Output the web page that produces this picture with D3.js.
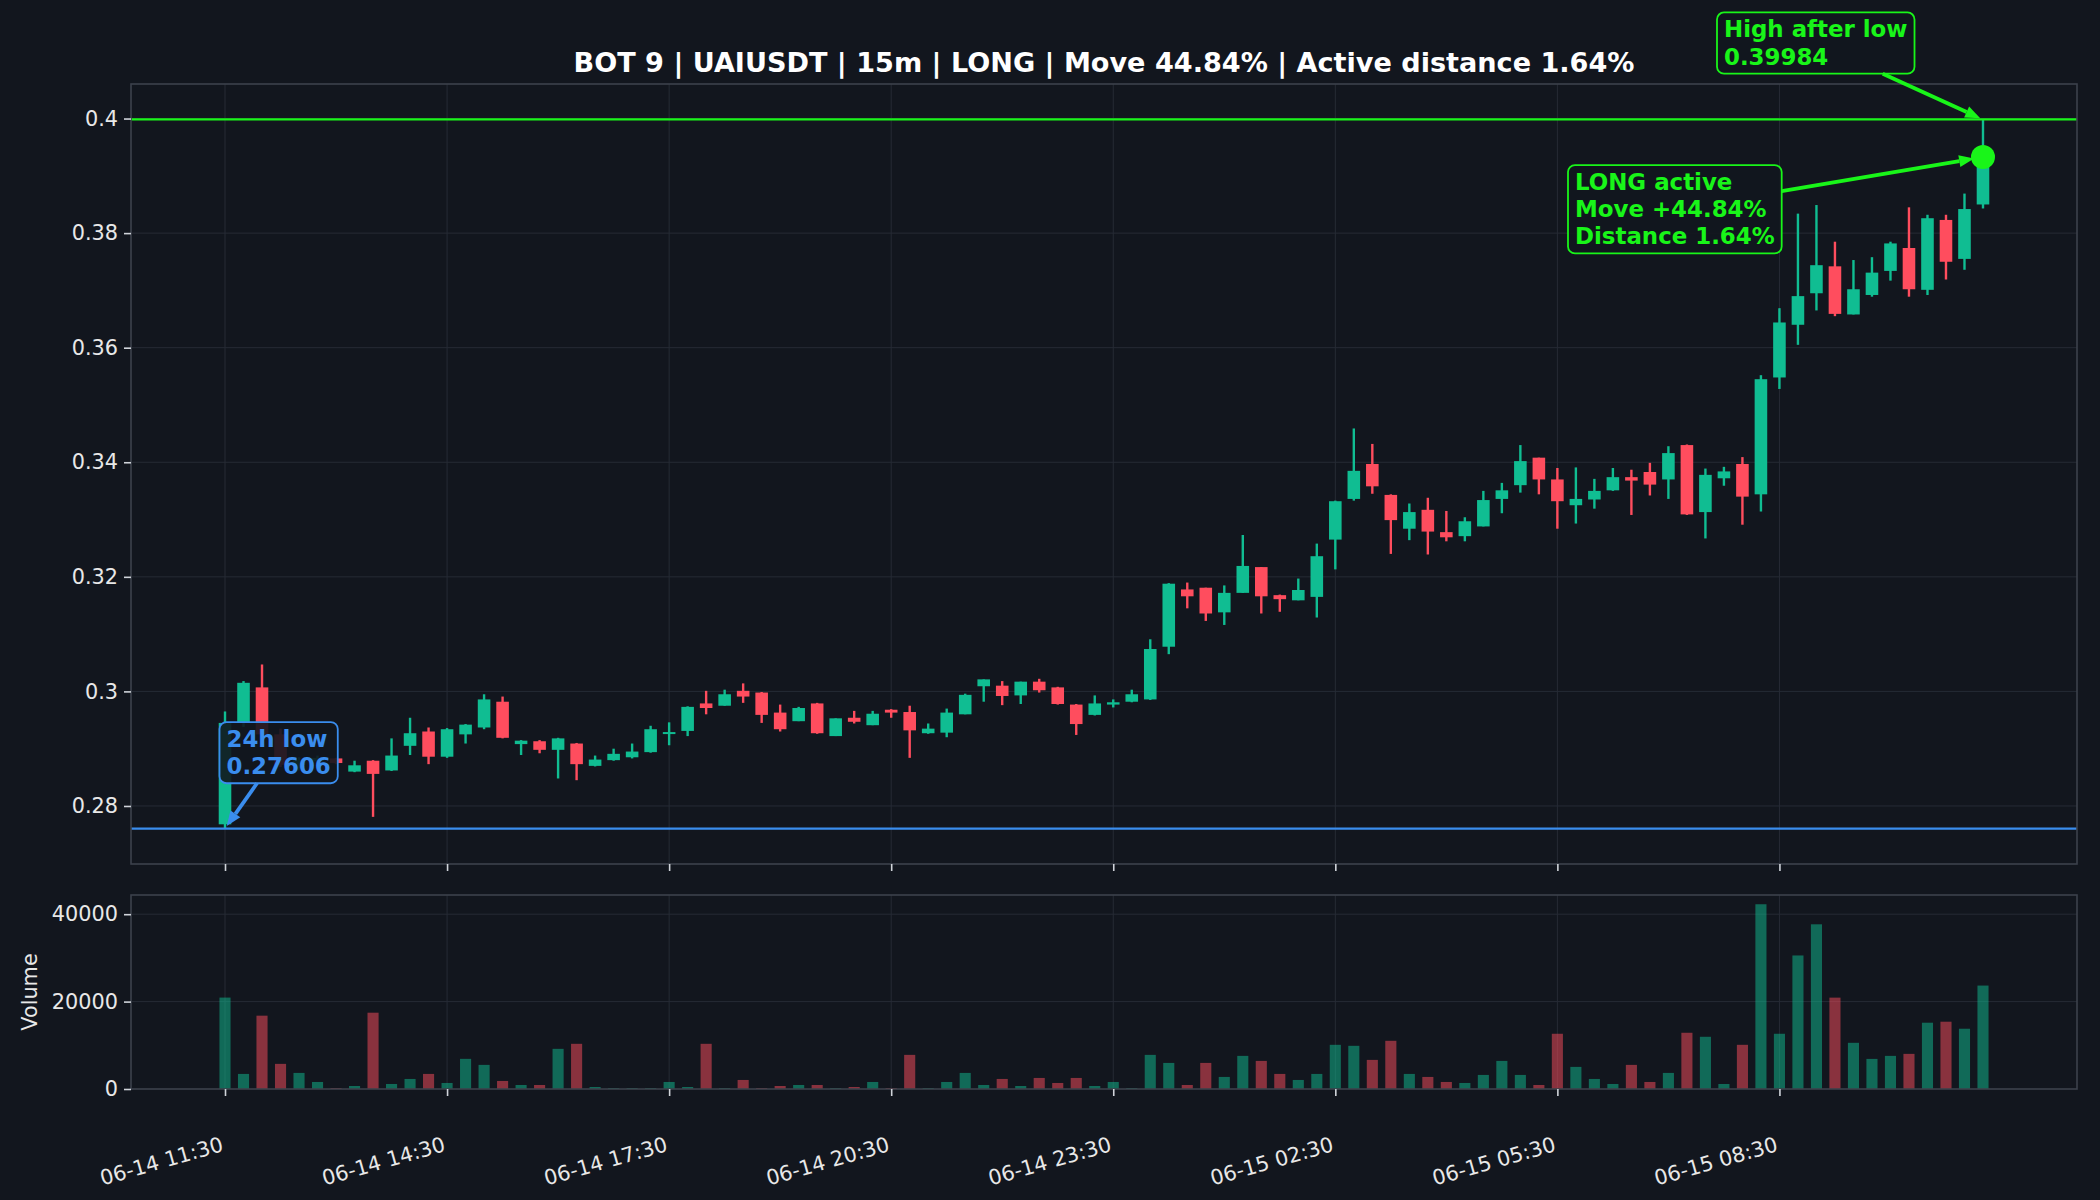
<!DOCTYPE html>
<html>
<head>
<meta charset="utf-8">
<script src="https://cdn.jsdelivr.net/npm/d3@7"></script>
<style>
  body { margin: 0; background: #12161e; }
  text { font-family: "DejaVu Sans", sans-serif; }
</style>
</head>
<body>
<svg id="chart"></svg>
<script>
// 15m candles, 06-14 11:30 -> 06-15 11:15
const opens = [
  0.2768, 0.2945, 0.3007, 0.2925, 0.2872, 0.2878, 0.2883, 0.2860, 0.2879, 0.2862, 0.2905, 0.2930,
  0.2886, 0.2925, 0.2937, 0.2982, 0.2908, 0.2913, 0.2898, 0.2909, 0.2870, 0.2880, 0.2885, 0.2894,
  0.2927, 0.2931, 0.2979, 0.2975, 0.3001, 0.2998, 0.2963, 0.2948, 0.2979, 0.2922, 0.2954, 0.2941,
  0.2968, 0.2964, 0.2927, 0.2928, 0.2960, 0.3009, 0.3010, 0.2993, 0.3017, 0.3007, 0.2977, 0.2959,
  0.2977, 0.2982, 0.2986, 0.3078, 0.3178, 0.3181, 0.3138, 0.3172, 0.3217, 0.3168, 0.3159, 0.3165,
  0.3265, 0.3336, 0.3397, 0.3343, 0.3284, 0.3317, 0.3278, 0.3271, 0.3288, 0.3336, 0.3360, 0.3408,
  0.3370, 0.3325, 0.3335, 0.3351, 0.3374, 0.3383, 0.3370, 0.3430, 0.3313, 0.3372, 0.3397, 0.3344,
  0.3548, 0.3640, 0.3695, 0.3742, 0.3658, 0.3692, 0.3734, 0.3774, 0.3701, 0.3823, 0.3755, 0.3850
];
const highs = [
  0.2965, 0.3018, 0.3047, 0.2935, 0.2885, 0.2888, 0.2884, 0.2879, 0.2880, 0.2918, 0.2954, 0.2937,
  0.2936, 0.2943, 0.2995, 0.2991, 0.2915, 0.2915, 0.2919, 0.2910, 0.2888, 0.2900, 0.2909, 0.2940,
  0.2946, 0.2974, 0.3001, 0.3003, 0.3014, 0.2999, 0.2977, 0.2973, 0.2980, 0.2953, 0.2966, 0.2966,
  0.2969, 0.2975, 0.2944, 0.2970, 0.2996, 0.3021, 0.3018, 0.3017, 0.3022, 0.3008, 0.2978, 0.2993,
  0.2986, 0.3003, 0.3091, 0.3189, 0.3190, 0.3181, 0.3185, 0.3273, 0.3217, 0.3169, 0.3197, 0.3258,
  0.3333, 0.3459, 0.3432, 0.3344, 0.3328, 0.3338, 0.3315, 0.3304, 0.3350, 0.3364, 0.3430, 0.3408,
  0.3390, 0.3391, 0.3371, 0.3390, 0.3387, 0.3399, 0.3428, 0.3431, 0.3389, 0.3392, 0.3409, 0.3552,
  0.3669, 0.3834, 0.3849, 0.3785, 0.3753, 0.3758, 0.3785, 0.3845, 0.3832, 0.3832, 0.3869, 0.39984
];
const lows = [
  0.27606, 0.2938, 0.2918, 0.2868, 0.2862, 0.2874, 0.2873, 0.2859, 0.2781, 0.2861, 0.2889, 0.2873,
  0.2884, 0.2909, 0.2934, 0.2918, 0.2889, 0.2892, 0.2848, 0.2845, 0.2869, 0.2879, 0.2883, 0.2893,
  0.2906, 0.2922, 0.2960, 0.2975, 0.2980, 0.2945, 0.2930, 0.2948, 0.2926, 0.2922, 0.2944, 0.2941,
  0.2954, 0.2884, 0.2926, 0.2920, 0.2960, 0.2982, 0.2976, 0.2978, 0.2998, 0.2977, 0.2924, 0.2958,
  0.2972, 0.2981, 0.2985, 0.3065, 0.3145, 0.3123, 0.3116, 0.3172, 0.3136, 0.3139, 0.3159, 0.3129,
  0.3213, 0.3333, 0.3345, 0.3240, 0.3264, 0.3239, 0.3262, 0.3262, 0.3288, 0.3311, 0.3347, 0.3344,
  0.3284, 0.3293, 0.3319, 0.3350, 0.3308, 0.3342, 0.3336, 0.3308, 0.3267, 0.3359, 0.3291, 0.3314,
  0.3528, 0.3605, 0.3665, 0.3655, 0.3658, 0.3689, 0.3717, 0.3689, 0.3692, 0.3719, 0.3736, 0.3843
];
const closes = [
  0.2945, 0.3015, 0.2925, 0.2872, 0.2880, 0.2884, 0.2875, 0.2871, 0.2856, 0.2888, 0.2927, 0.2886,
  0.2934, 0.2942, 0.2986, 0.2919, 0.2914, 0.2898, 0.2918, 0.2873, 0.2881, 0.2891, 0.2895, 0.2934,
  0.2929, 0.2973, 0.2971, 0.2995, 0.2991, 0.2959, 0.2934, 0.2971, 0.2927, 0.2953, 0.2947, 0.2961,
  0.2963, 0.2932, 0.2935, 0.2963, 0.2994, 0.3021, 0.2992, 0.3017, 0.3002, 0.2978, 0.2943, 0.2979,
  0.2981, 0.2995, 0.3074, 0.3188, 0.3166, 0.3136, 0.3172, 0.3219, 0.3166, 0.3161, 0.3177, 0.3236,
  0.3332, 0.3385, 0.3358, 0.3299, 0.3313, 0.3279, 0.3269, 0.3297, 0.3334, 0.3351, 0.3402, 0.3370,
  0.3332, 0.3336, 0.3350, 0.3374, 0.3368, 0.3361, 0.3416, 0.3309, 0.3378, 0.3384, 0.3340, 0.3545,
  0.3644, 0.3690, 0.3744, 0.3659, 0.3702, 0.3731, 0.3782, 0.3702, 0.3826, 0.3750, 0.3842, 0.39328
];
const volumes = [
  20920, 3450, 16780, 5750, 3680, 1610, 230, 690, 17460, 1150, 2300, 3450,
  1380, 6900, 5520, 1840, 920, 920, 9190, 10340, 460, 230, 230, 230,
  1610, 460, 10340, 230, 2070, 230, 690, 920, 920, 230, 460, 1610,
  230, 7810, 230, 1610, 3680, 920, 2300, 690, 2530, 1380, 2530, 690,
  1610, 230, 7810, 5970, 920, 5970, 2760, 7580, 6430, 3450, 2070, 3450,
  10110, 9880, 6660, 11030, 3450, 2760, 1610, 1380, 3220, 6430, 3220, 920,
  12640, 5060, 2300, 1150, 5520, 1610, 3680, 12870, 11950, 1150, 10110, 42280,
  12640, 30560, 37690, 20910, 10570, 6890, 7580, 8040, 15170, 15400, 13790, 23670
];
const xTickLabels = ["06-14 11:30", "06-14 14:30", "06-14 17:30", "06-14 20:30",
                     "06-14 23:30", "06-15 02:30", "06-15 05:30", "06-15 08:30"];
const priceTicks = [0.28, 0.30, 0.32, 0.34, 0.36, 0.38, 0.40];
const volumeTicks = [0, 20000, 40000];
const lowValue = 0.27606, highValue = 0.39984;
const titleText = "BOT 9 | UAIUSDT | 15m | LONG | Move 44.84% | Active distance 1.64%";

const W = 2100, H = 1200;
const left = 131, right = 2077;
const pTop = 84, pBottom = 864, vTop = 895, vBottom = 1089;
const bg = "#12161e", upColor = "#10bd92", downColor = "#ff4d5e";
const lime = "#19f519", blue = "#3a8dee", gridColor = "#262b35", spineColor = "#3c414c";

const parseT = d3.timeParse("%m-%d %H:%M");
const t0 = parseT(xTickLabels[0]);
const times = d3.timeMinute.every(15).range(t0, d3.timeMinute.offset(t0, 15 * opens.length));
const tickTimes = xTickLabels.map(parseT);
const step = 15 * 60000;

const x = d3.scaleTime()
  .domain([+times[0] - 5.08 * step, +times[times.length - 1] + 5.08 * step])
  .range([left, right]);
const pxStep = x(times[1]) - x(times[0]);
const lo = d3.min(lows), hi = d3.max(highs), pad = (hi - lo) * 0.05;
const y = d3.scaleLinear().domain([lo - pad, hi + pad]).range([pBottom, pTop]);
const yv = d3.scaleLinear().domain([0, d3.max(volumes) * 1.05]).range([vBottom, vTop]);

const svg = d3.select("#chart").attr("width", W).attr("height", H);
svg.append("rect").attr("width", W).attr("height", H).attr("fill", bg);

const candles = times.map((t, i) => ({
  t, o: opens[i], h: highs[i], l: lows[i], c: closes[i], v: volumes[i], up: closes[i] >= opens[i]
}));

// grids
function grid(g, top, bottom, yTicks, ys) {
  g.selectAll(".gx").data(tickTimes).join("line")
    .attr("x1", d => x(d)).attr("x2", d => x(d)).attr("y1", top).attr("y2", bottom)
    .attr("stroke", gridColor).attr("stroke-width", 1);
  g.selectAll(".gy").data(yTicks).join("line").attr("class", "gy")
    .attr("x1", left).attr("x2", right).attr("y1", d => ys(d)).attr("y2", d => ys(d))
    .attr("stroke", gridColor).attr("stroke-width", 1);
}
grid(svg.append("g"), pTop, pBottom, priceTicks, y);
grid(svg.append("g"), vTop, vBottom, volumeTicks.slice(1), yv);

// candles
const bodyW = pxStep * 0.68;
const cg = svg.append("g");
cg.selectAll("line").data(candles).join("line")
  .attr("x1", d => x(d.t)).attr("x2", d => x(d.t))
  .attr("y1", d => y(d.h)).attr("y2", d => y(d.l))
  .attr("stroke", d => d.up ? upColor : downColor).attr("stroke-width", 2.4);
cg.selectAll("rect").data(candles).join("rect")
  .attr("x", d => x(d.t) - bodyW / 2).attr("width", bodyW)
  .attr("y", d => y(Math.max(d.o, d.c)))
  .attr("height", d => Math.max(2, Math.abs(y(d.o) - y(d.c))))
  .attr("fill", d => d.up ? upColor : downColor);

// volume
const volW = pxStep * 0.6;
svg.append("g").selectAll("rect").data(candles).join("rect")
  .attr("x", d => x(d.t) - volW / 2).attr("width", volW)
  .attr("y", d => yv(d.v)).attr("height", d => yv(0) - yv(d.v))
  .attr("fill", d => d.up ? upColor : downColor).attr("opacity", 0.5);

// horizontal levels
svg.append("line").attr("x1", left).attr("x2", right)
  .attr("y1", y(highValue)).attr("y2", y(highValue))
  .attr("stroke", lime).attr("stroke-width", 2.2);
svg.append("line").attr("x1", left).attr("x2", right)
  .attr("y1", y(lowValue)).attr("y2", y(lowValue))
  .attr("stroke", blue).attr("stroke-width", 2.2);

const last = candles[candles.length - 1];
svg.append("circle").attr("cx", x(last.t)).attr("cy", y(last.c)).attr("r", 12).attr("fill", lime);

// spines
[[pTop, pBottom], [vTop, vBottom]].forEach(([a, b]) => {
  svg.append("rect").attr("x", left).attr("y", a).attr("width", right - left).attr("height", b - a)
    .attr("fill", "none").attr("stroke", spineColor).attr("stroke-width", 1.6);
});

// axes
const tickColor = "#d0d4da", labelColor = "#e8e8e8", fs = 20.8;
function styleAxis(g) {
  g.select(".domain").remove();
  g.selectAll(".tick line").attr("stroke", tickColor).attr("stroke-width", 1.6);
  g.selectAll(".tick text").attr("fill", labelColor).attr("font-size", fs)
    .attr("font-family", "DejaVu Sans");
}
svg.append("g").attr("transform", `translate(${left},0)`)
  .call(d3.axisLeft(y).tickValues(priceTicks).tickFormat(d => String(+d.toFixed(2))).tickSize(7).tickPadding(6))
  .call(styleAxis);
svg.append("g").attr("transform", `translate(${left},0)`)
  .call(d3.axisLeft(yv).tickValues(volumeTicks).tickFormat(d3.format("d")).tickSize(7).tickPadding(6))
  .call(styleAxis);
svg.append("g").attr("transform", `translate(0,${pBottom})`)
  .call(d3.axisBottom(x).tickValues(tickTimes).tickFormat("").tickSize(7))
  .call(styleAxis);

const xa = svg.append("g").attr("transform", `translate(0,${vBottom})`)
  .call(d3.axisBottom(x).tickValues(tickTimes).tickFormat((d, i) => xTickLabels[i]).tickSize(7))
  .call(styleAxis);
const rot = 16, capH = 0.73 * fs, rad = rot * Math.PI / 180;
const labelTop = 47; // glyph top of the label's right end, below the axis
xa.selectAll(".tick text")
  .attr("text-anchor", "end").attr("dy", null).attr("y", 0)
  .attr("transform", `translate(-1,${labelTop + capH * Math.cos(rad)}) rotate(${-rot})`);

svg.append("text").attr("transform", `translate(37,${(vTop + vBottom) / 2}) rotate(-90)`)
  .attr("text-anchor", "middle").attr("fill", labelColor).attr("font-size", fs).text("Volume");

svg.append("text").attr("x", (left + right) / 2).attr("y", 72).attr("text-anchor", "middle")
  .attr("fill", "#ffffff").attr("font-weight", "bold").attr("font-size", 27.1).text(titleText);

// annotations
function annotate(lines, color, tx, ty, ax, ay, shrink) {
  const g = svg.append("g");
  const rectSel = g.append("rect");
  const t = g.append("text").attr("fill", color).attr("font-weight", "bold").attr("font-size", 22.9);
  lines.forEach((s, k) => t.append("tspan").attr("x", tx).attr("y", ty + k * 27.2).text(s));
  const b = t.node().getBBox();
  const bx = b.x - 7, by = b.y - 4, bw = b.width + 14, bh = b.height + 8;
  rectSel.attr("x", bx).attr("y", by).attr("width", bw).attr("height", bh).attr("rx", 7)
    .attr("fill", bg).attr("fill-opacity", 0.9).attr("stroke", color).attr("stroke-width", 1.8);
  const cx = bx + bw / 2, cy = by + bh / 2, dx = ax - cx, dy = ay - cy;
  const s = Math.min(Math.abs((bw / 2) / dx), Math.abs((bh / 2) / dy));
  const sx = cx + dx * s, sy = cy + dy * s;
  const len = Math.hypot(ax - sx, ay - sy), ux = (ax - sx) / len, uy = (ay - sy) / len;
  const ex = ax - ux * shrink, ey = ay - uy * shrink;
  const hl = 15, hw = 6;
  const bx2 = ex - ux * hl, by2 = ey - uy * hl;
  g.append("line").attr("x1", sx).attr("y1", sy).attr("x2", bx2).attr("y2", by2)
    .attr("stroke", color).attr("stroke-width", 3.8);
  g.append("path")
    .attr("d", `M${ex},${ey}L${bx2 - uy * hw},${by2 + ux * hw}L${bx2 + uy * hw},${by2 - ux * hw}Z`)
    .attr("fill", color);
}
const ax95 = x(last.t);
annotate(["High after low", String(highValue)], lime, ax95 - 259, y(highValue) - 82, ax95, y(highValue), 3);
annotate(["LONG active", "Move +44.84%", "Distance 1.64%"], lime, ax95 - 408, y(last.c) + 33, ax95, y(last.c), 9);
const ax0 = x(candles[0].t);
annotate(["24h low", String(lowValue)], blue, ax0 + 1.5, y(lowValue) - 81.5, ax0, y(lowValue), 3);
</script>
</body>
</html>
